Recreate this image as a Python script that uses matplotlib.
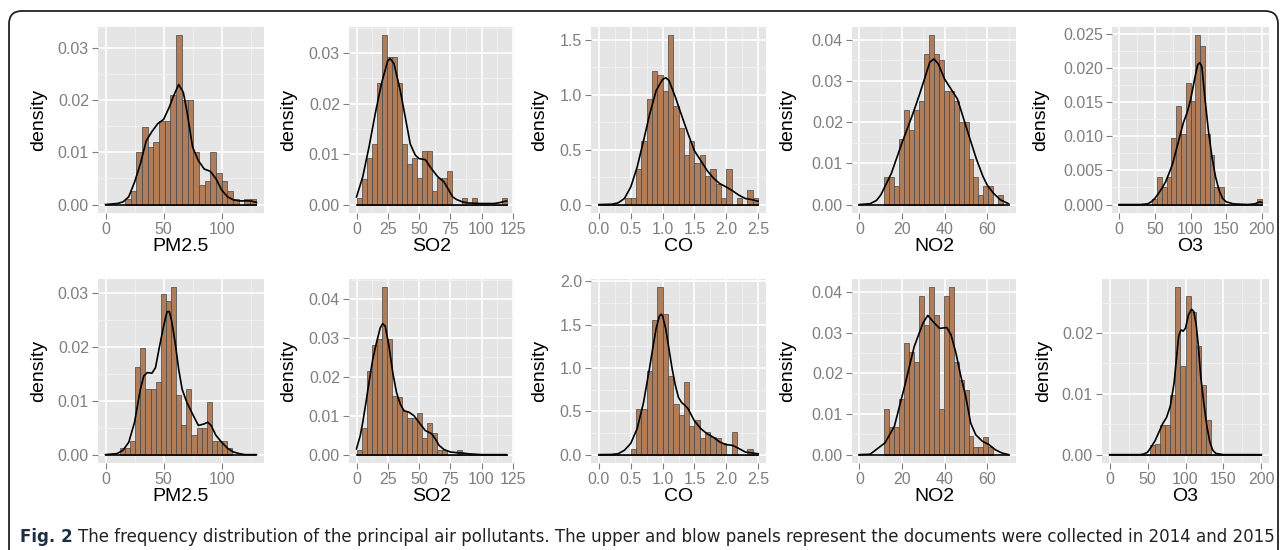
import os
import matplotlib
matplotlib.use("Agg")
import matplotlib.pyplot as plt
from matplotlib.patches import FancyBboxPatch
from matplotlib.transforms import IdentityTransform
from matplotlib import font_manager as fm
import numpy as np

# ------------------------------------------------------------------ data
pollutants = ["PM2.5", "SO2", "CO", "NO2", "O3"]

# ---- 2014 (upper row) ----
pm25_2014_bin_start, pm25_2014_bin_width = 16.7, 4.9
pm25_2014_hist = [0.0010, 0.0025, 0.0100, 0.0148, 0.0110, 0.0120, 0.0160, 0.0160,
                  0.0210, 0.0324, 0.0200, 0.0200, 0.0100, 0.0038, 0.0045, 0.0100,
                  0.0060, 0.0045, 0.0025, 0.0010, 0.0000, 0.0010, 0.0010]
pm25_2014_curve_x = [0, 10, 15, 20, 25, 30, 35, 40, 45, 50, 55, 58, 63, 67, 70, 75,
                     80, 85, 90, 95, 100, 105, 110, 115, 120, 125, 130]
pm25_2014_curve_y = [0, 0.0002, 0.0005, 0.0015, 0.0043, 0.0078, 0.0122, 0.0140,
                     0.0155, 0.0163, 0.0187, 0.0205, 0.0230, 0.0215, 0.0180, 0.0110,
                     0.0084, 0.0068, 0.0064, 0.0050, 0.0028, 0.0015, 0.0009, 0.0007,
                     0.0007, 0.0007, 0.0004]

so2_2014_bin_start, so2_2014_bin_width = 0.0, 4.0
so2_2014_hist = [0.0013, 0.0050, 0.0093, 0.0120, 0.0240, 0.0335, 0.0293, 0.0293,
                 0.0240, 0.0120, 0.0080, 0.0093, 0.0053, 0.0107, 0.0107, 0.0027,
                 0.0053, 0.0053, 0.0067, 0.0, 0.0, 0.0013, 0.0, 0.0013, 0.0, 0.0,
                 0.0, 0.0, 0.0, 0.0013]
so2_2014_curve_x = [0, 5, 10, 15, 20, 25, 27, 30, 35, 40, 43, 47, 50, 55, 60, 65, 70,
                    73, 77, 80, 85, 90, 100, 110, 115, 120]
so2_2014_curve_y = [0.0015, 0.0055, 0.0114, 0.0180, 0.0240, 0.0285, 0.0289, 0.0279,
                    0.0226, 0.0160, 0.0120, 0.0098, 0.0091, 0.0089, 0.0071, 0.0055,
                    0.0045, 0.0032, 0.0015, 0.0010, 0.0005, 0.0003, 0.0002, 0.0002,
                    0.0004, 0.0007]

co_2014_bin_start, co_2014_bin_width = 0.0, 2.5 / 30
co_2014_hist = [0, 0, 0, 0, 0, 0.06, 0.06, 0.32, 0.58, 0.96, 1.22, 1.18, 1.03, 1.54,
                0.90, 0.70, 0.45, 0.58, 0.38, 0.45, 0.26, 0.32, 0.19, 0.06, 0.32, 0.0,
                0.06, 0.0, 0.13, 0.06]
co_2014_curve_x = [0, 0.2, 0.3, 0.4, 0.5, 0.6, 0.7, 0.8, 0.9, 1.0, 1.05, 1.1, 1.2, 1.3,
                   1.4, 1.5, 1.6, 1.7, 1.8, 1.9, 2.0, 2.1, 2.2, 2.3, 2.4, 2.5]
co_2014_curve_y = [0, 0.003, 0.015, 0.055, 0.16, 0.34, 0.58, 0.83, 1.04, 1.14, 1.155,
                   1.13, 0.98, 0.81, 0.645, 0.49, 0.40, 0.31, 0.24, 0.19, 0.16, 0.125,
                   0.085, 0.055, 0.045, 0.03]

no2_2014_bin_start, no2_2014_bin_width = 11.6, 2.33
no2_2014_hist = [0.0068, 0.0068, 0.0045, 0.0160, 0.0230, 0.0180, 0.0230, 0.0250,
                 0.0365, 0.0410, 0.0365, 0.0350, 0.0275, 0.0275, 0.0250, 0.0200,
                 0.0200, 0.0110, 0.0068, 0.0023, 0.0045, 0.0045, 0.0, 0.0023]
no2_2014_curve_x = [0, 5, 8, 10, 15, 20, 25, 28, 30, 33, 35, 37, 40, 43, 46, 50, 53,
                    55, 58, 60, 63, 66, 68, 70]
no2_2014_curve_y = [0, 0.0002, 0.0010, 0.0023, 0.0076, 0.0150, 0.0219, 0.0264, 0.0296,
                    0.0345, 0.0353, 0.0341, 0.0304, 0.0280, 0.0256, 0.0190, 0.0141,
                    0.0109, 0.0068, 0.0047, 0.0027, 0.0012, 0.0007, 0.0002]

o3_2014_bin_start, o3_2014_bin_width = 0.0, 200 / 30
o3_2014_hist = [0, 0, 0, 0, 0, 0, 0, 0.0008, 0.0040, 0.0025, 0.0040, 0.0098, 0.0145,
                0.0103, 0.0178, 0.0152, 0.0248, 0.0232, 0.0103, 0.0072, 0.0025, 0.0025,
                0, 0, 0, 0, 0, 0, 0, 0.0008]
o3_2014_curve_x = [0, 30, 40, 45, 50, 55, 60, 65, 70, 75, 80, 85, 90, 95, 100, 105, 110,
                   113, 116, 120, 125, 130, 135, 140, 145, 150, 160, 180, 190, 197, 200]
o3_2014_curve_y = [0, 0, 0.0001, 0.0004, 0.0009, 0.0016, 0.0024, 0.0033, 0.0046, 0.0060,
                   0.0080, 0.0100, 0.0120, 0.0134, 0.0153, 0.0180, 0.0205, 0.0208,
                   0.0202, 0.0158, 0.0109, 0.0070, 0.0041, 0.0021, 0.0009, 0.0004,
                   0.0001, 0, 0.0001, 0.0004, 0.0003]

# ---- 2015 (lower row) ----
pm25_2015_bin_start, pm25_2015_bin_width = 12.4, 4.4
pm25_2015_hist = [0.0012, 0.0012, 0.0025, 0.0162, 0.0198, 0.0122, 0.0122, 0.0135,
                  0.0298, 0.0285, 0.0310, 0.0110, 0.0055, 0.0122, 0.0037, 0.0050,
                  0.0050, 0.0098, 0.0025, 0.0025, 0.0025, 0.0012]
pm25_2015_curve_x = [0, 10, 15, 20, 25, 28, 30, 33, 36, 40, 43, 46, 50, 53, 55, 57, 60,
                     63, 66, 70, 75, 80, 85, 88, 91, 95, 100, 105, 110, 115, 120, 130]
pm25_2015_curve_y = [0, 0.0002, 0.0008, 0.0023, 0.0060, 0.0097, 0.0121, 0.0146, 0.0152,
                     0.0151, 0.0161, 0.0195, 0.0238, 0.0265, 0.0265, 0.0247, 0.0207,
                     0.0158, 0.0121, 0.0097, 0.0075, 0.0054, 0.0057, 0.0060, 0.0054,
                     0.0036, 0.0023, 0.0012, 0.0005, 0.0002, 0, 0]

so2_2015_bin_start, so2_2015_bin_width = 0.0, 4.0
so2_2015_hist = [0.0013, 0.0068, 0.0215, 0.0283, 0.0297, 0.0430, 0.0297, 0.0150, 0.0148,
                 0.0112, 0.0095, 0.0095, 0.0108, 0.0042, 0.0082, 0.0055, 0.0013, 0.0013,
                 0, 0, 0.0013, 0, 0, 0, 0, 0, 0, 0, 0, 0]
so2_2015_curve_x = [0, 3, 5, 8, 10, 13, 16, 19, 21, 23, 26, 29, 32, 35, 38, 42, 46, 50,
                    55, 60, 63, 66, 70, 75, 80, 85, 90, 100, 120]
so2_2015_curve_y = [0.0015, 0.0049, 0.0083, 0.0143, 0.0186, 0.0245, 0.0288, 0.0326,
                    0.0337, 0.0330, 0.0279, 0.0211, 0.0160, 0.0130, 0.0113, 0.0109,
                    0.0100, 0.0083, 0.0062, 0.0054, 0.0041, 0.0024, 0.0013, 0.0007,
                    0.0005, 0.0004, 0.0002, 0, 0]

co_2015_bin_start, co_2015_bin_width = 0.0, 2.5 / 30
co_2015_hist = [0, 0, 0, 0, 0, 0, 0.07, 0.53, 0.53, 0.97, 1.55, 1.93, 1.62, 0.91, 0.58,
                0.46, 0.84, 0.33, 0.40, 0.19, 0.26, 0.20, 0.19, 0.13, 0, 0.26, 0, 0,
                0.07, 0]
co_2015_curve_x = [0, 0.2, 0.3, 0.4, 0.5, 0.6, 0.7, 0.8, 0.85, 0.9, 0.95, 0.98, 1.0,
                   1.05, 1.1, 1.15, 1.2, 1.25, 1.3, 1.35, 1.4, 1.5, 1.6, 1.7, 1.8, 1.9,
                   2.0, 2.1, 2.2, 2.3, 2.4, 2.5]
co_2015_curve_y = [0, 0.002, 0.01, 0.05, 0.13, 0.30, 0.60, 1.02, 1.25, 1.46, 1.60, 1.62,
                   1.60, 1.45, 1.22, 0.99, 0.80, 0.66, 0.60, 0.57, 0.53, 0.39, 0.30,
                   0.24, 0.20, 0.145, 0.115, 0.107, 0.07, 0.03, 0.02, 0.01]

no2_2015_bin_start, no2_2015_bin_width = 11.6, 2.33
no2_2015_hist = [0.0113, 0.0068, 0.0068, 0.0137, 0.0275, 0.0252, 0.0228, 0.0390,
                 0.0320, 0.0412, 0.0345, 0.0113, 0.0390, 0.0412, 0.0228, 0.0184,
                 0.0160, 0.0045, 0.0020, 0.0020, 0.0043, 0.0020]
no2_2015_curve_x = [0, 5, 12, 16.4, 21, 25.7, 29.8, 32.1, 34.5, 37.6, 41, 43, 45.3,
                    47.6, 49.9, 52.2, 54.6, 57.7, 60.7, 63.8, 66.9, 70]
no2_2015_curve_y = [0, 0.0001, 0.0029, 0.0070, 0.0164, 0.0266, 0.0324, 0.0343, 0.0328,
                    0.0311, 0.0313, 0.0295, 0.0250, 0.0193, 0.0143, 0.0078, 0.0049,
                    0.0033, 0.0025, 0.0012, 0.0004, 0]

o3_2015_bin_start, o3_2015_bin_width = 0.0, 200 / 30
o3_2015_hist = [0, 0, 0, 0, 0, 0, 0, 0, 0.0016, 0.0017, 0.0049, 0.0049, 0.0098, 0.0275,
                0.0146, 0.0260, 0.0235, 0.0178, 0.0114, 0.0057, 0, 0, 0, 0, 0, 0, 0, 0,
                0, 0]
o3_2015_curve_x = [0, 40, 45, 50, 55, 60, 65, 70, 75, 80, 85, 88, 91, 94, 97, 100, 104,
                   108, 111, 114, 117, 120, 124, 128, 132, 136, 140, 150, 200]
o3_2015_curve_y = [0, 0, 0.0001, 0.0004, 0.0013, 0.0023, 0.0037, 0.0051, 0.0061, 0.0080,
                   0.0118, 0.0157, 0.0195, 0.0205, 0.0203, 0.0208, 0.0230, 0.0239,
                   0.0235, 0.0214, 0.0178, 0.0129, 0.0086, 0.0048, 0.0021, 0.0007,
                   0.0002, 0, 0]

caption_label = "Fig. 2"
caption_text = ("The frequency distribution of the principal air pollutants. The upper and "
                "blow panels represent the documents were collected in 2014 and 2015")

# ------------------------------------------------------------------ style
W, H, DPI = 1281, 550, 100
plt.rcParams['font.family'] = ['Liberation Sans', 'DejaVu Sans']
LIB = fm.FontProperties(fname=fm.findfont(fm.FontProperties(family='Liberation Sans')))

BAR_FILL = '#B07D5A'
BAR_EDGE = '#454545'
PANEL_BG = '#E5E5E5'
TICK_GREY = '#7F7F7F'

rows = [
    [(pm25_2014_bin_start, pm25_2014_bin_width, pm25_2014_hist, pm25_2014_curve_x, pm25_2014_curve_y),
     (so2_2014_bin_start, so2_2014_bin_width, so2_2014_hist, so2_2014_curve_x, so2_2014_curve_y),
     (co_2014_bin_start, co_2014_bin_width, co_2014_hist, co_2014_curve_x, co_2014_curve_y),
     (no2_2014_bin_start, no2_2014_bin_width, no2_2014_hist, no2_2014_curve_x, no2_2014_curve_y),
     (o3_2014_bin_start, o3_2014_bin_width, o3_2014_hist, o3_2014_curve_x, o3_2014_curve_y)],
    [(pm25_2015_bin_start, pm25_2015_bin_width, pm25_2015_hist, pm25_2015_curve_x, pm25_2015_curve_y),
     (so2_2015_bin_start, so2_2015_bin_width, so2_2015_hist, so2_2015_curve_x, so2_2015_curve_y),
     (co_2015_bin_start, co_2015_bin_width, co_2015_hist, co_2015_curve_x, co_2015_curve_y),
     (no2_2015_bin_start, no2_2015_bin_width, no2_2015_hist, no2_2015_curve_x, no2_2015_curve_y),
     (o3_2015_bin_start, o3_2015_bin_width, o3_2015_hist, o3_2015_curve_x, o3_2015_curve_y)],
]

# layout in pixels: (left, top, right, bottom)
boxes = [
    [(98, 27, 264, 213), (349, 27, 514, 213), (591, 27, 766, 213), (852, 27, 1016, 213), (1112, 27, 1269, 213)],
    [(98, 279, 264, 463), (349, 279, 514, 463), (591, 279, 766, 463), (852, 279, 1016, 463), (1102, 279, 1269, 463)],
]
ylabel_right = [[47, 297, 548, 796, 1049], [47, 297, 548, 796, 1052]]
x_steps = [50, 25, 0.5, 20, 50]
x_dec = [0, 0, 1, 0, 0]
y_steps = [[0.01, 0.01, 0.5, 0.01, 0.005], [0.01, 0.01, 0.5, 0.01, 0.01]]
y_dec = [[2, 2, 1, 2, 3], [2, 2, 1, 2, 2]]
xtitle_top_px = [241, 491]   # top of x title text (pixels)

fig = plt.figure(figsize=(W / DPI, H / DPI), dpi=DPI)
fig.patch.set_facecolor('white')


def minor_between(major, lo, hi):
    step = major[1] - major[0]
    cand = np.concatenate([[major[0] - step / 2], (major[:-1] + major[1:]) / 2,
                           [major[-1] + step / 2]])
    return cand[(cand > lo) & (cand < hi)]


for r in range(2):
    for c in range(5):
        start, width, hist, cx, cy = rows[r][c]
        l, t, rr, b = boxes[r][c]
        ax = fig.add_axes([l / W, 1 - b / H, (rr - l) / W, (b - t) / H])
        ax.set_facecolor(PANEL_BG)
        for s in ax.spines.values():
            s.set_visible(False)

        hist = np.asarray(hist, float)
        edges = start + width * np.arange(len(hist))
        ax.bar(edges, hist, width=width, align='edge', color=BAR_FILL,
               edgecolor=BAR_EDGE, linewidth=0.5, zorder=2)
        ax.plot(cx, cy, color='black', lw=1.2, zorder=3, solid_joinstyle='round')
        ax.plot([cx[0], cx[-1]], [0, 0], color='black', lw=1.2, zorder=3)

        xlo = min(cx[0], edges[0])
        xhi = max(cx[-1], edges[-1] + width)
        xr = xhi - xlo
        ax.set_xlim(xlo - 0.05 * xr, xhi + 0.05 * xr)
        ymax = max(hist.max(), max(cy))
        ax.set_ylim(-0.05 * ymax, 1.05 * ymax)

        xs = x_steps[c]
        xt = np.arange(0, xhi + 0.05 * xr + 1e-9, xs)
        ax.set_xticks(xt)
        ax.set_xticklabels([f"{v:.{x_dec[c]}f}" for v in xt], fontproperties=LIB)
        ys = y_steps[r][c]
        yt = np.arange(0, 1.05 * ymax + 1e-12, ys)
        ax.set_yticks(yt)
        ax.set_yticklabels([f"{v:.{y_dec[r][c]}f}" for v in yt], fontproperties=LIB)
        ax.set_xticks(minor_between(xt, *ax.get_xlim()), minor=True)
        ax.set_yticks(minor_between(yt, *ax.get_ylim()), minor=True)

        ax.grid(which='major', color='white', lw=1.2, zorder=0)
        ax.grid(which='minor', color='#F2F2F2', lw=0.6, zorder=0)
        ax.set_axisbelow(True)
        ax.tick_params(which='major', direction='out', length=4.5, width=0.8,
                       color=TICK_GREY, labelcolor=TICK_GREY, labelsize=11.5, pad=2)
        ax.tick_params(which='minor', length=0)

        ax.set_ylabel('density', fontproperties=LIB, fontsize=14, color='black')
        ax.yaxis.set_label_coords((ylabel_right[r][c] - l) / (rr - l), 0.5)
        ax.set_xlabel(pollutants[c], fontproperties=LIB, fontsize=14, color='black')
        ax.xaxis.set_label_coords(0.5, -(xtitle_top_px[r] - 3 - b) / (b - t))

# outer rounded frame
frame = FancyBboxPatch((9, -30), 1269, 550 - 11 + 30,
                       boxstyle='round,pad=0,rounding_size=13',
                       transform=IdentityTransform(), fill=False,
                       edgecolor='#222222', linewidth=1.3)
fig.add_artist(frame)


# caption font: prefer an installed condensed sans face
def _w(f):
    w = f.weight
    if isinstance(w, str):
        return {'normal': 400, 'regular': 400, 'book': 400, 'bold': 700,
                'medium': 500, 'light': 300}.get(w.lower(), 400)
    return int(w)


def find_condensed(weight):
    best = None
    for f in fm.fontManager.ttflist:
        key = (os.path.basename(f.fname) + ' ' + f.name).lower()
        if f.style != 'normal' or 'mono' in key or 'serif' in key.replace('sans', ''):
            continue
        cond = ('condensed' in key or 'narrow' in key or
                str(f.stretch) in ('condensed', 'semi-condensed', 'extra-condensed'))
        if not cond or 'semicondensed' in key or 'semi' in key or 'extra' in key:
            continue
        score = abs(_w(f) - weight)
        if best is None or score < best[0]:
            best = (score, f.fname)
    return best[1] if best and best[0] <= 100 else None


reg_path = find_condensed(400)
bold_path = find_condensed(700)
if reg_path:
    fp_reg = fm.FontProperties(fname=reg_path, size=14)
else:
    fp_reg = fm.FontProperties(family='Liberation Sans', size=14)
if bold_path:
    fp_bold = fm.FontProperties(fname=bold_path, size=14)
else:
    fp_bold = fm.FontProperties(family='Liberation Sans', weight='bold', size=14)

cap_y = 1 - 537 / H
t1 = fig.text(20 / W, cap_y, caption_label, fontproperties=fp_bold,
              color='#1E2E45', va='center', ha='left')
t2 = fig.text(0, cap_y, caption_text, fontproperties=fp_reg, color='#222222',
              va='center', ha='left')
fig.canvas.draw()
rend = fig.canvas.get_renderer()
for _ in range(3):
    e1 = t1.get_window_extent(rend)
    t2.set_x((e1.x1 + 5) / W)
    e2 = t2.get_window_extent(rend)
    scale = (1272 - 20) / (e2.x1 - e1.x0)
    fs = min(t1.get_fontsize() * scale, 15.5)
    t1.set_fontsize(fs)
    t2.set_fontsize(fs)
    fig.canvas.draw()
e1 = t1.get_window_extent(rend)
t2.set_x((e1.x1 + 5) / W)

fig.savefig('out.png', dpi=DPI, facecolor='white')
